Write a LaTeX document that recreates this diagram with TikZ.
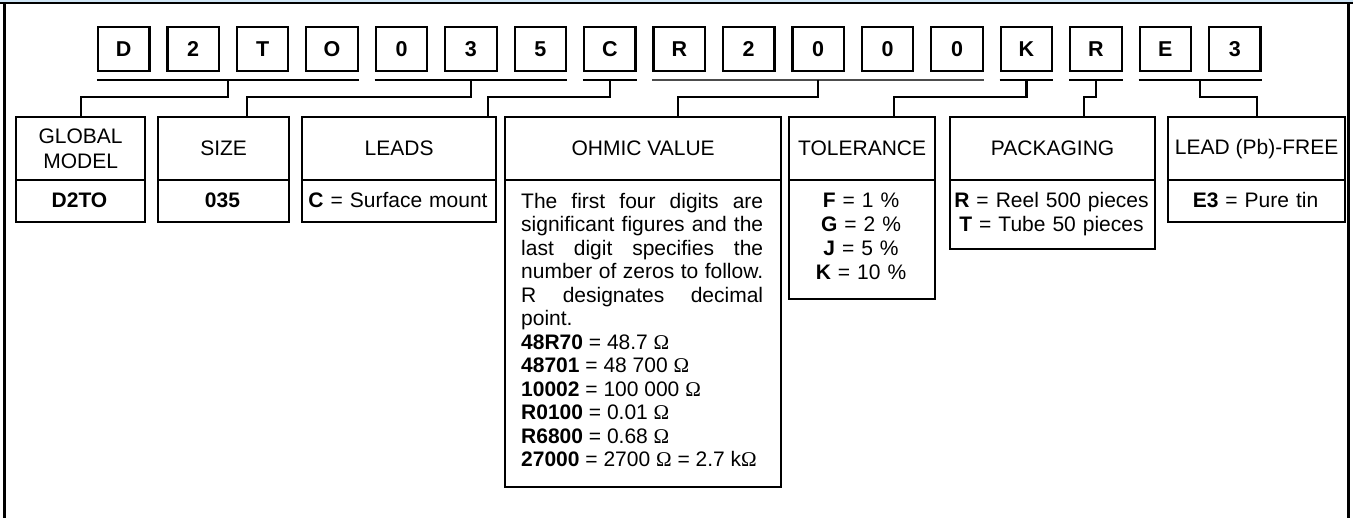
\documentclass[tikz,border=0pt]{standalone}
\usepackage{fontspec}
\setmainfont{Liberation Sans}
\newfontfamily\omegafont{Liberation Serif}
\usetikzlibrary{calc}
\newcommand{\Om}{{\omegafont Ω}}
\definecolor{topblue}{HTML}{CFE5F5}
\begin{document}
\begin{tikzpicture}[x=1pt,y=-1pt,
  every node/.style={font=\fontsize{21}{24}\selectfont, inner sep=0pt},
  letterbox/.style={draw, line width=2.2pt, minimum width=51.5pt, minimum height=44pt, font=\fontsize{21.5}{24}\selectfont\bfseries},
  hdr/.style={draw, line width=2.2pt, anchor=north west, minimum height=63pt, align=center},
  databox/.style={draw, line width=2.2pt, anchor=north west},
  txt/.style={anchor=base, align=center, text width=200pt},
  uline/.style={line width=2.2pt},
  conn/.style={line width=2.2pt}
]
\useasboundingbox (0,0) rectangle (1353,518);
% frame
\fill[topblue] (0,0) rectangle (1353,2.4);
\draw[line width=1.8pt] (0,3.3) -- (1353,3.3);
\draw[line width=2.7pt] (4.7,2.4) -- (4.7,518);
\draw[line width=2.7pt] (1348.8,2.4) -- (1348.8,518);

\coordinate (ul) at (0,80);
\coordinate (mid) at (0,97);

% letter boxes
\foreach \c [count=\i] in {D,2,T,O,0,3,5,C,R,2,0,0,0,K,R,E,3}
  \node[letterbox] (l\i) at ({123.75+69.44*(\i-1)},49) {\c};

% header boxes
\node[hdr, minimum width=129pt] (hGM) at (15,116) {GLOBAL\\[0.5pt]MODEL};
\node[hdr, minimum width=131pt] (hSZ) at (157,116) {SIZE};
\node[hdr, minimum width=194pt] (hLD) at (301,116) {LEADS};
\node[hdr, minimum width=276pt] (hOV) at (504,116) {OHMIC VALUE};
\node[hdr, minimum width=146pt] (hTL) at (788,116) {TOLERANCE};
\node[hdr, minimum width=205pt] (hPK) at (949,116) {PACKAGING};
\node[hdr, minimum width=177pt] (hLF) at (1167,116) {LEAD (Pb)-FREE};

% data boxes
\node[databox, minimum width=129pt, minimum height=42pt] (dGM) at (15,179) {};
\node[databox, minimum width=131pt, minimum height=42pt] (dSZ) at (157,179) {};
\node[databox, minimum width=194pt, minimum height=42pt] (dLD) at (301,179) {};
\node[databox, minimum width=276pt, minimum height=307pt] (dOV) at (504,179) {};
\node[databox, minimum width=146pt, minimum height=119pt] (dTL) at (788,179) {};
\node[databox, minimum width=205pt, minimum height=69pt] (dPK) at (949,179) {};
\node[databox, minimum width=177pt, minimum height=42pt] (dLF) at (1167,179) {};

% data texts
\node[txt] (tGM) at (79.5,207.3) {\textbf{D2TO}};
\node[txt] (tSZ) at (222.5,207.3) {\textbf{035}};
\node[txt] (tLD) at (398,207.3) {\textbf{C} = Surface mount};
\node[txt] (tTL) at (861,207.3) {\textbf{F} = 1 \%\\\textbf{G} = 2 \%\\\textbf{J} = 5 \%\\\textbf{K} = 10 \%};
\node[txt] (tPK) at (1051.5,207.3) {\textbf{R} = Reel 500 pieces\\\textbf{T} = Tube 50 pieces};
\node[txt] (tLF) at (1255.5,207.3) {\textbf{E3} = Pure tin};
\node[anchor=base west, text width=242pt, align=justify, font=\fontsize{21}{23.5}\selectfont] (tOV) at (521,208.3) {%
\makebox[242pt][s]{The first four digits are}\\
\makebox[242pt][s]{significant figures and the}\\
\makebox[242pt][s]{last digit specifies the}\\
\makebox[242pt][s]{number of zeros to follow.}\\
\makebox[242pt][s]{R designates decimal}\\
\mbox{point.}\\
\mbox{\textbf{48R70} = 48.7 \Om}\\
\mbox{\textbf{48701} = 48 700 \Om}\\
\mbox{\textbf{10002} = 100 000 \Om}\\
\mbox{\textbf{R0100} = 0.01 \Om}\\
\mbox{\textbf{R6800} = 0.68 \Om}\\
\mbox{\textbf{27000} = 2700 \Om{} = 2.7 k\Om}};

% underlines
\draw[uline] (l1.south west |- ul) -- (l4.south east |- ul);
\draw[uline] (l5.south west |- ul) -- (l7.south east |- ul);
\draw[uline] (l8.south west |- ul) -- (l8.south east |- ul);
\draw[line width=1.6pt, black!70] (l9.south west |- ul) -- (l13.south east |- ul);
\draw[uline] (l14.south west |- ul) -- (l14.south east |- ul);
\draw[uline] (l15.south west |- ul) -- (l15.south east |- ul);
\draw[uline] (l16.south west |- ul) -- (l17.south east |- ul);

% connectors
\draw[conn] ($(l1.south west |- ul)!0.5!(l4.south east |- ul)$) coordinate (m1) -- (m1 |- mid) -| (hGM.north);
\draw[conn] ($(l5.south west |- ul)!0.5!(l7.south east |- ul)$) coordinate (m2) -- (m2 |- mid) -| ([xshift=90pt]hSZ.north west);
\draw[conn] (l8.south |- ul) coordinate (m3) -- (m3 |- mid) -| ([xshift=-9pt]hLD.north east);
\draw[conn] ($(l9.south west |- ul)!0.5!(l13.south east |- ul)$) coordinate (m4) -- (m4 |- mid) -| ([xshift=174pt]hOV.north west);
\draw[conn] (l14.south |- ul) coordinate (m5) -- (m5 |- mid) -| ([xshift=106pt]hTL.north west);
\draw[conn] (l15.south |- ul) coordinate (m6) -- (m6 |- mid) -| ([xshift=135pt]hPK.north west);
\draw[conn] ($(l16.south west |- ul)!0.5!(l17.south east |- ul)$) coordinate (m7) -- (m7 |- mid) -| (hLF.north);
\end{tikzpicture}
\end{document}
